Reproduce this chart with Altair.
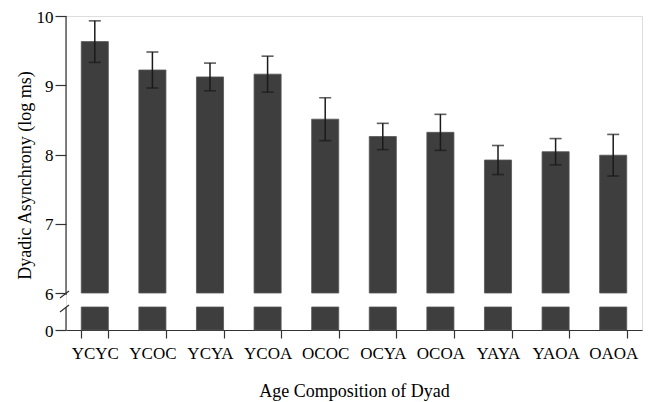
import altair as alt
import pandas as pd

categories = ["YCYC", "YCOC", "YCYA", "YCOA", "OCOC", "OCYA", "OCOA", "YAYA", "YAOA", "OAOA"]
means = [9.63, 9.22, 9.12, 9.16, 8.51, 8.26, 8.32, 7.92, 8.04, 7.99]
errors = [0.30, 0.26, 0.20, 0.26, 0.31, 0.19, 0.26, 0.21, 0.19, 0.30]
y_ticks = [0, 6, 7, 8, 9, 10]

df = pd.DataFrame({"cat": categories, "mean": means, "err": errors})
df["lo"] = df["mean"] - df["err"]
df["hi"] = df["mean"] + df["err"]

FONT = "Liberation Serif"
BAR = "#3e3e3e"
INK = "#1a1a1a"

yscale = alt.Scale(domain=[0, 1, 6, 10], range=[314, 291, 277, 0], nice=False, zero=False)
xscale = alt.Scale(domain=categories, paddingInner=0.53, paddingOuter=0.265)

base = alt.Chart(df)

x_axis = alt.Axis(
    title="Age Composition of Dyad", labelAngle=0, tickBand="extent",
    labelFont=FONT, labelFontSize=17, labelColor="black", labelPadding=7,
    titleFont=FONT, titleFontSize=18, titleFontWeight="normal", titleColor="black",
    titleBaseline="alphabetic", titleY=66,
    tickSize=8, tickColor="#333", domainColor="#333", domainWidth=1.2, tickWidth=1.2,
)
y_axis = alt.Axis(
    title="Dyadic Asynchrony (log ms)", values=y_ticks, domain=False,
    labelFont=FONT, labelFontSize=17, labelColor="black", labelPadding=2, labelOffset=1,
    titleFont=FONT, titleFontSize=18, titleFontWeight="normal", titleColor="black",
    titleBaseline="alphabetic", titleX=-36, titleY=159, titleAngle=270,
    tickSize=11, tickColor="#333", tickWidth=1.2, grid=False,
)

upper = base.mark_bar(color=BAR, stroke="#555", strokeWidth=0.8).encode(
    x=alt.X("cat:N", scale=xscale, axis=x_axis, sort=categories),
    y=alt.Y("mean:Q", scale=yscale, axis=y_axis),
    y2=alt.datum(6),
)
lower = base.mark_bar(color=BAR, stroke="#555", strokeWidth=0.8).encode(
    x=alt.X("cat:N", sort=categories),
    y=alt.datum(0),
    y2=alt.datum(1),
)
stem = base.mark_rule(color=INK, strokeWidth=1.5).encode(
    x=alt.X("cat:N", sort=categories), y="lo:Q", y2="hi:Q"
)
cap_lo = base.mark_tick(color=INK, thickness=1.6, size=12).encode(
    x=alt.X("cat:N", sort=categories), y="lo:Q"
)
cap_hi = base.mark_tick(color=INK, thickness=1.6, size=12).encode(
    x=alt.X("cat:N", sort=categories), y="hi:Q"
)

one = pd.DataFrame({"a": [0]})
axis_top = alt.Chart(one).mark_rule(color="#333", strokeWidth=1.2, y2Offset=2).encode(
    x=alt.value(0), y=alt.datum(10), y2=alt.datum(6)
)
axis_bot = alt.Chart(one).mark_rule(color="#333", strokeWidth=1.2).encode(
    x=alt.value(0), y=alt.datum(0), y2=alt.datum(1)
)
slash1 = alt.Chart(one).mark_rule(color="#333", strokeWidth=1.2, yOffset=5, y2Offset=-2).encode(
    x=alt.value(-6), x2=alt.value(3), y=alt.datum(6), y2=alt.datum(6)
)
slash2 = alt.Chart(one).mark_rule(color="#333", strokeWidth=1.2, yOffset=5, y2Offset=-2).encode(
    x=alt.value(-6), x2=alt.value(3), y=alt.datum(1), y2=alt.datum(1)
)

chart = alt.layer(upper, lower, stem, cap_lo, cap_hi, axis_top, axis_bot, slash1, slash2).properties(
    width=576, height=314,
    autosize=alt.AutoSizeParams(type="none"),
    padding={"left": 58, "top": 8, "right": 1, "bottom": 72},
).configure_view(stroke=None).configure(background="white")

chart.save("out.html", embed_options={"renderer": "svg", "actions": False})
